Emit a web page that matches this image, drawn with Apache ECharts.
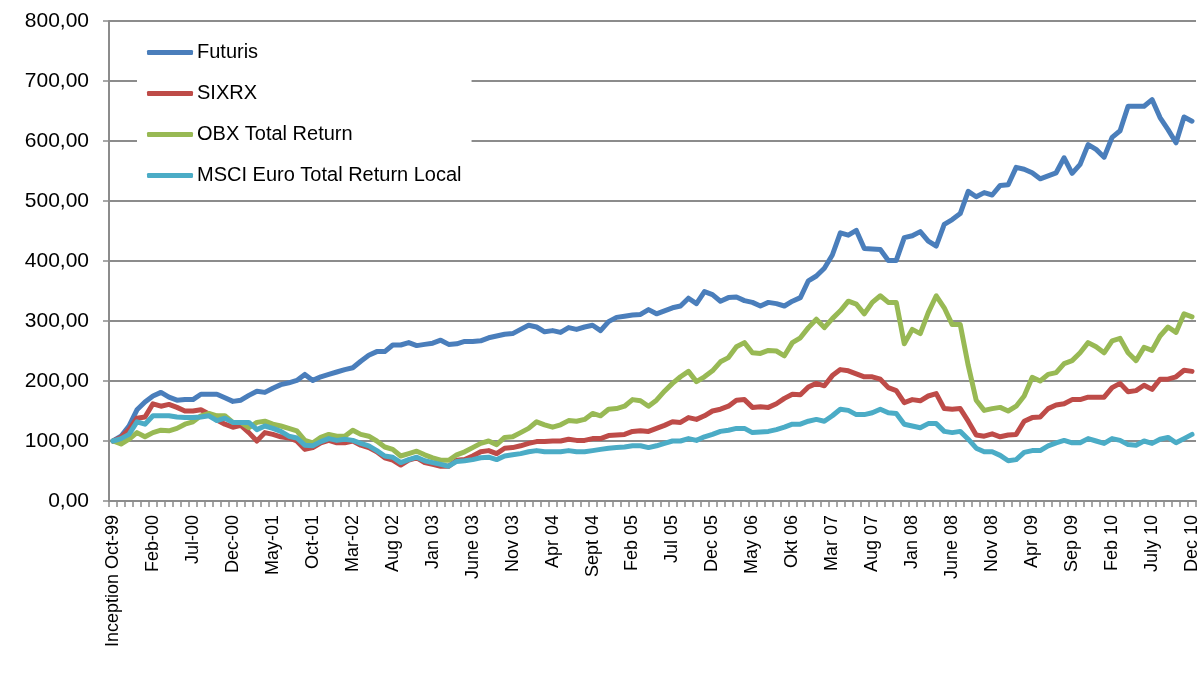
<!DOCTYPE html>
<html>
<head>
<meta charset="utf-8">
<title>Futuris</title>
<script src="https://cdn.jsdelivr.net/npm/echarts@6/dist/echarts.min.js"></script>
<style>
  html, body { margin: 0; background: #fff; }
  #chart { width: 1201px; height: 700px; }
</style>
</head>
<body>
<div id="chart"></div>
<script>
// tick labels, one every 5 months
var tickLabels = ['Inception Oct-99', 'Feb-00', 'Jul-00', 'Dec-00', 'May-01', 'Oct-01', 'Mar-02', 'Aug 02',
  'Jan 03', 'June 03', 'Nov 03', 'Apr 04', 'Sept 04', 'Feb 05', 'Jul 05', 'Dec 05', 'May 06', 'Okt 06',
  'Mar 07', 'Aug 07', 'Jan 08', 'June 08', 'Nov 08', 'Apr 09', 'Sep 09', 'Feb 10', 'July 10', 'Dec 10'];

var futuris = [100, 108, 125, 152, 165, 175, 181, 173, 168, 169, 169, 178, 178, 178, 172, 166, 168, 176, 183, 181,
  188, 194, 197, 201, 211, 201, 207, 211, 215, 219, 222, 233, 243, 249, 249, 260, 260, 264, 259, 261,
  263, 268, 261, 262, 266, 266, 267, 272, 275, 278, 279, 286, 293, 290, 282, 284, 281, 289, 286, 290,
  293, 284, 299, 306, 308, 310, 311, 319, 312, 317, 322, 325, 338, 329, 349, 344, 333, 339, 340, 334,
  331, 325, 331, 329, 325, 333, 339, 367, 375, 388, 410, 447, 443, 451, 421, 420, 419, 401, 401, 439,
  442, 449, 433, 425, 461, 469, 479, 516, 507, 514, 510, 526, 527, 556, 553, 547, 537, 542, 547, 572,
  546, 561, 594, 586, 573, 606, 617, 658, 658, 658, 669, 639, 619, 597, 640, 633];

var sixrx = [100, 106, 119, 138, 140, 162, 158, 161, 156, 150, 150, 152, 145, 135, 128, 123, 126, 114, 100, 114,
  111, 107, 105, 100, 86, 89, 97, 101, 97, 97, 100, 93, 89, 82, 72, 68, 60, 68, 72, 64,
  61, 58, 58, 68, 69, 75, 82, 84, 79, 88, 89, 92, 96, 99, 99, 100, 100, 103, 101, 101,
  104, 104, 109, 110, 111, 116, 117, 116, 121, 126, 132, 131, 139, 136, 142, 150, 153, 158, 168, 169,
  156, 157, 156, 162, 171, 178, 177, 190, 196, 192, 209, 219, 217, 212, 207, 207, 203, 189, 184, 164,
  169, 167, 175, 179, 154, 153, 154, 133, 110, 108, 112, 107, 110, 111, 133, 139, 140, 154, 160, 162,
  169, 169, 173, 173, 173, 189, 196, 182, 184, 193, 186, 203, 203, 207, 218, 216];

var obx = [100, 95, 103, 114, 107, 114, 118, 117, 121, 128, 132, 142, 146, 142, 142, 131, 131, 122, 131, 133,
  128, 125, 121, 117, 101, 97, 106, 111, 108, 108, 118, 111, 108, 100, 90, 86, 75, 79, 83, 77,
  72, 68, 68, 77, 82, 89, 96, 100, 94, 106, 107, 114, 121, 132, 127, 123, 127, 134, 133, 136,
  146, 142, 153, 154, 158, 169, 167, 158, 168, 183, 196, 207, 216, 199, 207, 217, 232, 239, 257, 264,
  247, 246, 251, 250, 242, 264, 272, 289, 303, 289, 304, 317, 333, 328, 312, 331, 342, 331, 331, 262,
  286, 279, 314, 342, 322, 294, 294, 226, 168, 151, 154, 156, 150, 158, 175, 206, 200, 211, 214, 229,
  234, 247, 264, 257, 247, 267, 271, 247, 234, 256, 251, 275, 290, 281, 312, 307];

var msci = [100, 104, 111, 132, 128, 142, 142, 142, 140, 139, 139, 140, 142, 134, 138, 131, 131, 131, 119, 125,
  121, 116, 108, 105, 93, 92, 99, 104, 101, 103, 101, 96, 92, 84, 75, 73, 64, 69, 73, 67,
  64, 61, 58, 66, 67, 69, 72, 73, 69, 75, 77, 79, 82, 84, 82, 82, 82, 84, 82, 82,
  84, 86, 88, 89, 90, 92, 92, 89, 92, 96, 100, 100, 104, 101, 107, 111, 116, 118, 121, 121,
  114, 115, 116, 119, 123, 128, 128, 133, 136, 133, 142, 153, 151, 144, 144, 147, 153, 147, 146, 128,
  125, 122, 129, 129, 116, 114, 116, 103, 88, 82, 82, 76, 67, 69, 81, 84, 84, 92, 97, 101,
  97, 97, 104, 100, 96, 104, 101, 94, 93, 100, 96, 103, 106, 97, 104, 111];

var seriesNames = ['Futuris', 'SIXRX', 'OBX Total Return', 'MSCI Euro Total Return Local'];
var seriesColors = ['#4A7EBB', '#BE4B48', '#98B954', '#4BACC6'];

// one category per month, starting at inception
var monthNames = ['Jan', 'Feb', 'Mar', 'Apr', 'May', 'Jun', 'Jul', 'Aug', 'Sep', 'Oct', 'Nov', 'Dec'];
var categories = [];
for (var i = 0; i < futuris.length; i++) {
  var m = 8 + i;
  categories.push(monthNames[m % 12] + '-' + (1999 + Math.floor(m / 12)));
}

var font = 'Liberation Sans';
var chart = echarts.init(document.getElementById('chart'));

function line(name, data, color) {
  return {
    name: name,
    type: 'line',
    data: data,
    showSymbol: false,
    symbol: 'none',
    animation: false,
    lineStyle: { color: color, width: 5, cap: 'round', join: 'round' },
    itemStyle: { color: color }
  };
}

chart.setOption({
  animation: false,
  grid: { left: 109, right: 1, top: 21, bottom: 199 },
  legend: {
    orient: 'vertical',
    left: 137,
    top: 30,
    padding: [12, 10, 10, 10],
    backgroundColor: '#fff',
    icon: 'roundRect',
    itemWidth: 46,
    itemHeight: 5,
    itemGap: 20,
    textStyle: { fontFamily: font, fontSize: 20, color: '#000', lineHeight: 21, padding: [0, 0, 0, -1] },
    data: seriesNames
  },
  xAxis: {
    type: 'category',
    data: categories,
    boundaryGap: true,
    axisLine: { lineStyle: { color: '#8c8c8c', width: 2 } },
    axisTick: { show: true, interval: 0, length: 6, lineStyle: { color: '#8c8c8c', width: 1.5 } },
    axisLabel: {
      interval: 0,
      rotate: 90,
      margin: 14,
      fontFamily: font,
      fontSize: 18,
      color: '#000',
      formatter: function (v, idx) { return idx % 5 === 0 ? tickLabels[idx / 5] : ''; }
    },
    splitLine: { show: false }
  },
  yAxis: {
    type: 'value',
    min: 0,
    max: 800,
    interval: 100,
    axisLine: { show: true, lineStyle: { color: '#8c8c8c', width: 2 } },
    axisTick: { show: true, length: 6, lineStyle: { color: '#8c8c8c', width: 1.5 } },
    axisLabel: {
      margin: 20,
      fontFamily: font,
      fontSize: 21,
      color: '#000',
      formatter: function (v) { return v.toFixed(2).replace('.', ','); }
    },
    splitLine: { lineStyle: { color: '#8c8c8c', width: 2 } }
  },
  series: [
    line(seriesNames[0], futuris, seriesColors[0]),
    line(seriesNames[1], sixrx, seriesColors[1]),
    line(seriesNames[2], obx, seriesColors[2]),
    line(seriesNames[3], msci, seriesColors[3])
  ]
});
</script>
</body>
</html>
